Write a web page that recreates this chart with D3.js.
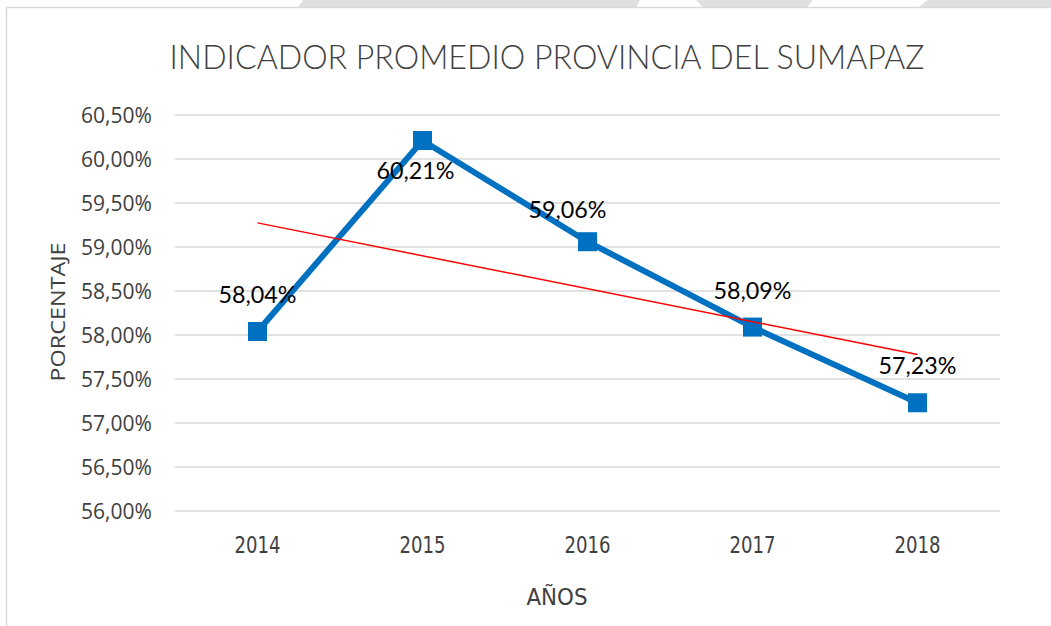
<!DOCTYPE html>
<html><head><meta charset="utf-8">
<script src="https://cdn.jsdelivr.net/npm/d3@7"></script>
<style>html,body{margin:0;padding:0;background:#fff;}svg{display:block;}</style>
</head><body>
<svg id="chart" width="1051" height="626"></svg>
<script>
const years = ["2014","2015","2016","2017","2018"];
const values = [58.04, 60.21, 59.06, 58.09, 57.23];
const labels = ["58,04%","60,21%","59,06%","58,09%","57,23%"];
const yTicks = [56.0, 56.5, 57.0, 57.5, 58.0, 58.5, 59.0, 59.5, 60.0, 60.5];
const yTickLabels = ["56,00%","56,50%","57,00%","57,50%","58,00%","58,50%","59,00%","59,50%","60,00%","60,50%"];
const titleText = "INDICADOR PROMEDIO PROVINCIA DEL SUMAPAZ";
const xTitle = "AÑOS";
const yTitle = "PORCENTAJE";

// label offsets (layout only)
const labelDx = [0, -7, -20, 0, 0];
const labelDy = [-37, 30, -32, -36, -37];

const svg = d3.select("#chart");

// decorative top strip
const strip = svg.append("g");
[[[303,0],[640,0],[636,7.5],[298,7.5]],
 [[696,0],[813,0],[807,7.5],[703,7.5]],
 [[928,0],[1051,0],[1051,7.5],[918,7.5]]].forEach(p=>{
  strip.append("polygon").attr("points", p.map(d=>d.join(",")).join(" ")).attr("fill","#e0e0e0");
});
// chart frame
svg.append("rect").attr("x",6.5).attr("y",7.5).attr("width",1100).attr("height",700)
  .attr("fill","#fff").attr("stroke","#d9d9d9").attr("stroke-width",1.5);

const x = d3.scaleBand().domain(years).range([175, 1000]).padding(0);
const y = d3.scaleLinear().domain([56, 60.5]).range([511, 115]);
const cx = d => x(d) + x.bandwidth()/2;

// gridlines
svg.append("g").selectAll("line").data(yTicks).join("line")
  .attr("x1",175).attr("x2",1000)
  .attr("y1",d=>y(d)).attr("y2",d=>y(d))
  .attr("stroke","#d9d9d9").attr("stroke-width",1.5);

// y tick labels
svg.append("g").selectAll("text").data(yTicks).join("text")
  .attr("x",152).attr("y",d=>y(d)).attr("dy","0.36em")
  .attr("text-anchor","end")
  .attr("font-family","'Open Sans', sans-serif").attr("font-size",21)
  .attr("textLength",71).attr("lengthAdjust","spacingAndGlyphs")
  .attr("fill","#404040")
  .text((d,i)=>yTickLabels[i]);

// x tick labels
svg.append("g").selectAll("text").data(years).join("text")
  .attr("x",d=>cx(d)).attr("y",553)
  .attr("text-anchor","middle")
  .attr("font-family","'Liberation Sans Narrow', 'DejaVu Sans Condensed', sans-serif").attr("font-size",23)
  .attr("textLength",46).attr("lengthAdjust","spacingAndGlyphs")
  .attr("fill","#404040")
  .text(d=>d);

// title
svg.append("text").attr("x",547).attr("y",69).attr("text-anchor","middle")
  .attr("font-family","Lato, sans-serif").attr("font-size",33).attr("font-weight",300)
  .attr("textLength",755).attr("lengthAdjust","spacingAndGlyphs")
  .attr("fill","#404040").text(titleText);

// axis titles
svg.append("text").attr("x",557).attr("y",605).attr("text-anchor","middle")
  .attr("font-family","'Liberation Sans Narrow', 'DejaVu Sans Condensed', sans-serif").attr("font-size",23)
  .attr("textLength",61).attr("lengthAdjust","spacingAndGlyphs")
  .attr("fill","#404040").text(xTitle);

svg.append("text").attr("transform","translate(65,312) rotate(-90)").attr("text-anchor","middle")
  .attr("font-family","'Open Sans', sans-serif").attr("font-size",20)
  .attr("textLength",139).attr("lengthAdjust","spacingAndGlyphs")
  .attr("fill","#404040").text(yTitle);

// series line
const line = d3.line().x((d,i)=>cx(years[i])).y(d=>y(d));
svg.append("path").datum(values).attr("d",line)
  .attr("fill","none").attr("stroke","#0070C0").attr("stroke-width",6).attr("stroke-linejoin","miter");

// markers
const ms = 19;
svg.append("g").selectAll("rect").data(values).join("rect")
  .attr("x",(d,i)=>cx(years[i])-ms/2).attr("y",d=>y(d)-ms/2)
  .attr("width",ms).attr("height",ms).attr("fill","#0070C0");

// linear trendline (least squares over category index)
const n = values.length;
const idx = values.map((d,i)=>i+1);
const mx = d3.mean(idx), my = d3.mean(values);
const slope = d3.sum(idx.map((xi,i)=>(xi-mx)*(values[i]-my))) / d3.sum(idx.map(xi=>(xi-mx)**2));
const icpt = my - slope*mx;
svg.append("line")
  .attr("x1",cx(years[0])).attr("y1",y(icpt+slope*1))
  .attr("x2",cx(years[n-1])).attr("y2",y(icpt+slope*n))
  .attr("stroke","#ff0000").attr("stroke-width",1.5);

// data labels
svg.append("g").selectAll("text").data(values).join("text")
  .attr("x",(d,i)=>cx(years[i])+labelDx[i]).attr("y",(d,i)=>y(d)+labelDy[i]).attr("dy","0.36em")
  .attr("text-anchor","middle")
  .attr("font-family","Lato, sans-serif").attr("font-size",23)
  .attr("textLength",78).attr("lengthAdjust","spacingAndGlyphs")
  .attr("fill","#000")
  .text((d,i)=>labels[i]);
</script>
</body></html>
